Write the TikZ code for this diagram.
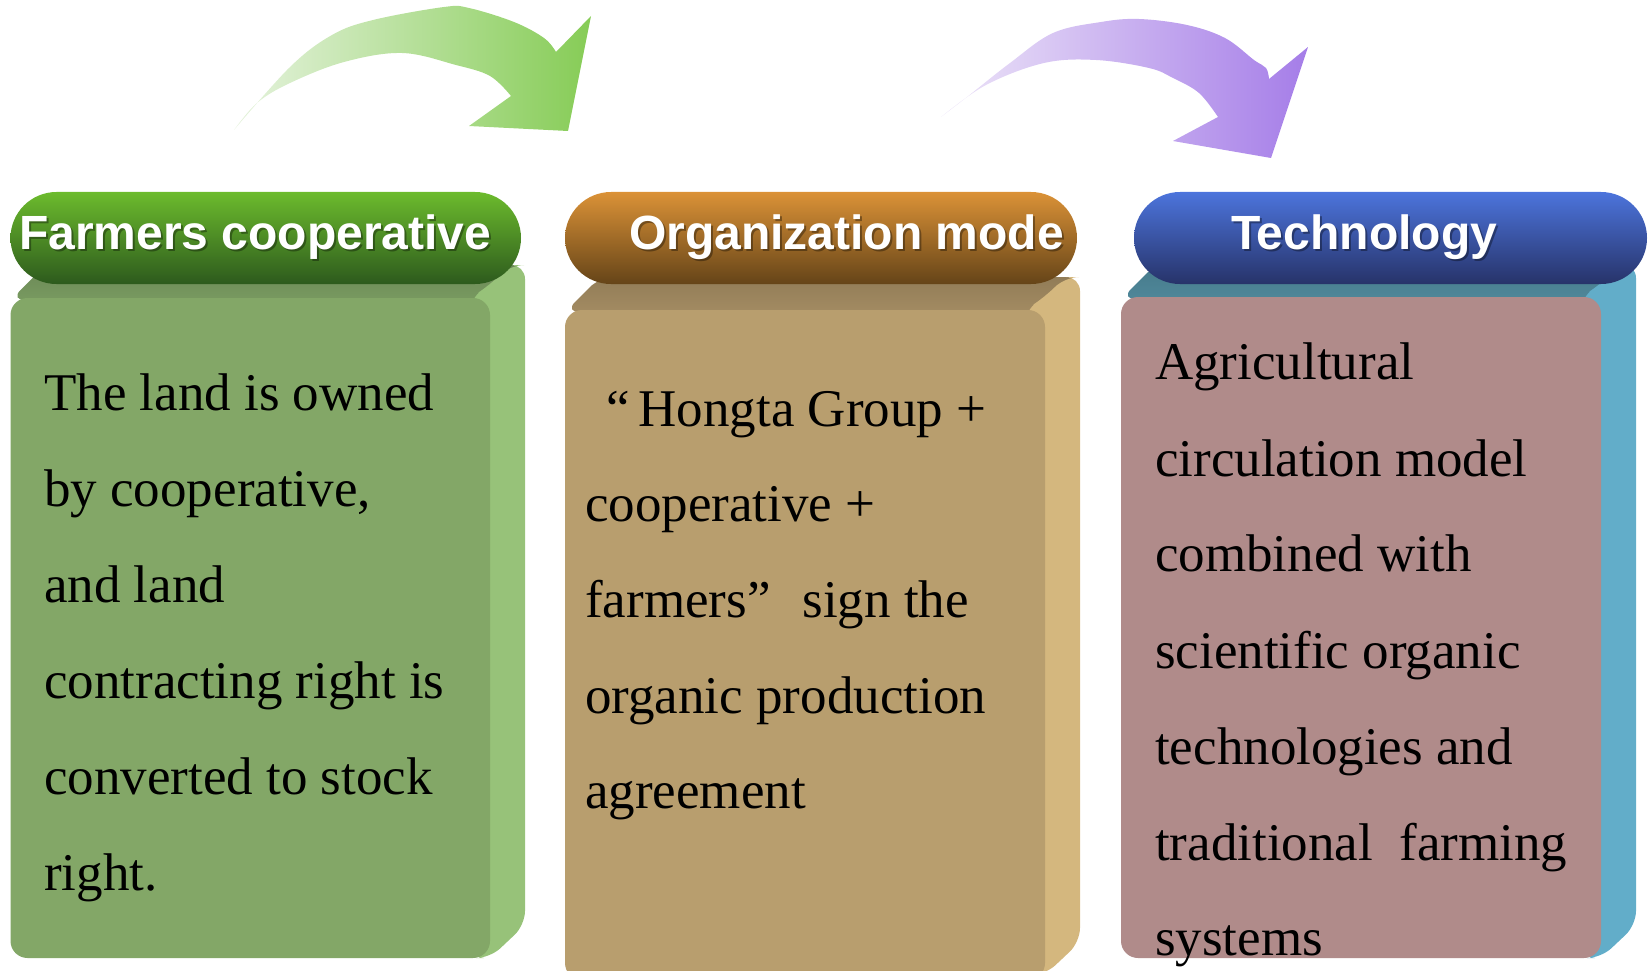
\documentclass[tikz,border=0pt]{standalone}
\usepackage{fontspec}
\setmainfont{Liberation Serif}
\setsansfont{Liberation Sans}
\definecolor{gfront}{HTML}{83A767}
\definecolor{gside}{HTML}{97C279}
\definecolor{gtop}{HTML}{6B8756}
\definecolor{gtopL}{HTML}{789A60}
\definecolor{ofront}{HTML}{B89E6E}
\definecolor{oside}{HTML}{D4B77E}
\definecolor{otop}{HTML}{917C57}
\definecolor{otopL}{HTML}{A38B62}
\definecolor{bfront}{HTML}{B08B8A}
\definecolor{bside}{HTML}{62ADC9}
\definecolor{btop}{HTML}{467A8B}
\definecolor{btopL}{HTML}{4F8799}
\definecolor{ghA}{HTML}{6CBB2D}
\definecolor{ghB}{HTML}{4F9326}
\definecolor{ghC}{HTML}{2D5A1D}
\definecolor{ohA}{HTML}{DB9237}
\definecolor{ohB}{HTML}{A8702A}
\definecolor{ohC}{HTML}{654418}
\definecolor{bhA}{HTML}{4C74DC}
\definecolor{bhB}{HTML}{3D58A8}
\definecolor{bhC}{HTML}{273369}
\definecolor{garL}{HTML}{E6F3DE}
\definecolor{garR}{HTML}{86CC56}
\definecolor{parL}{HTML}{EEE6F8}
\definecolor{parR}{HTML}{A57DE8}
\tikzset{
  bodytext/.style={anchor=base west, inner sep=0pt, font=\fontsize{53}{60}\selectfont},
  headtext/.style={anchor=base west, inner sep=0pt, text=white, font=\sffamily\bfseries\fontsize{48}{54}\selectfont},
  headshadow/.style={headtext, text=black, opacity=0.35},
  pill/.style={rounded corners=46pt},
  frontface/.style={rounded corners=17pt},
  sideface/.style={rounded corners=14pt},
}
\begin{document}
\begin{tikzpicture}[x=1pt,y=-1pt]
\useasboundingbox (0,0) rectangle (1650,971);
% ---- arrows
\shade[left color=garL, right color=garR]
  plot[smooth, tension=0.6] coordinates {(234,130) (290,67) (332,35) (373,20) (444,7) (469,8) (514,22) (544,38) (556,52)}
  -- (591,16) -- (568,131) -- (469,126)
  -- plot[smooth, tension=0.6] coordinates {(511,96) (490,76) (456,65) (402,53) (344,62) (290,83) (257,103) (234,130)}
  -- cycle;
\shade[left color=parL, right color=parR]
  plot[smooth, tension=0.6] coordinates {(941,117) (967,97) (1010,63) (1053,33) (1101,22) (1139,19) (1187,25) (1225,38) (1254,60) (1266,68) (1269,79)}
  -- (1308,47) -- (1271,158) -- (1173,141)
  -- plot[smooth, tension=0.6] coordinates {(1218,117) (1199,93) (1173,78) (1149,68) (1096,60) (1044,63) (986,85) (941,117)}
  -- cycle;
% ---- box 1
\shade[sideface, top color=gtop, bottom color=gtopL] (10.5,300) -- (45.5,265) -- (525,265) -- (490,298) -- cycle;
\fill[gside, sideface] (470,298) -- (490,285) -- (510,265) -- (525,265) -- (525,925) -- (490,958) -- (470,958) -- cycle;
\fill[gfront, frontface] (10.5,298) rectangle (490,958);
\shade[pill, top color=ghA, middle color=ghB, bottom color=ghC] (10.5,192) rectangle (521,284);
% ---- box 2
\shade[sideface, top color=otop, bottom color=otopL] (565,312) -- (600,277) -- (1080,277) -- (1045,310) -- cycle;
\fill[oside, sideface] (1025,310) -- (1045,297) -- (1065,277) -- (1080,277) -- (1080,942) -- (1045,975) -- (1025,975) -- cycle;
\fill[ofront, frontface] (565,310) rectangle (1045,980);
\shade[pill, top color=ohA, middle color=ohB, bottom color=ohC] (565,192) rectangle (1077,284);
% ---- box 3
\shade[sideface, top color=btop, bottom color=btopL] (1121,299) -- (1156,264) -- (1636,264) -- (1601,297) -- cycle;
\fill[bside, sideface] (1581,297) -- (1601,284) -- (1621,264) -- (1636,264) -- (1636,925) -- (1601,958) -- (1581,958) -- cycle;
\fill[bfront, frontface] (1121,297) rectangle (1601,958);
\shade[pill, top color=bhA, middle color=bhB, bottom color=bhC] (1134,192) rectangle (1647,284);
% ---- header texts
\node[headshadow] (h1s) at (21,251) {Farmers cooperative};
\node[headtext] (h1) at (19,249) {Farmers cooperative};
\node[headshadow] (h2s) at (631,251) {Organization mode};
\node[headtext] (h2) at (629,249) {Organization mode};
\node[headshadow] (h3s) at (1233,251) {Technology};
\node[headtext] (h3) at (1231,249) {Technology};
% ---- body texts
\node[bodytext] (a1) at (44,410) {The land is owned};
\node[bodytext] (a2) at (44,506) {by cooperative,};
\node[bodytext] (a3) at (44,602) {and land};
\node[bodytext] (a4) at (44,698) {contracting right is};
\node[bodytext] (a5) at (44,794) {converted to stock};
\node[bodytext] (a6) at (44,890) {right.};
\node[bodytext] (b1) at (606,426) {“\hspace{9pt}Hongta Group +};
\node[bodytext] (b2) at (585,521) {cooperative +};
\node[bodytext] (b3) at (585,617) {farmers”\hspace{32pt}sign the};
\node[bodytext] (b4) at (585,713) {organic production};
\node[bodytext] (b5) at (585,808) {agreement};
\node[bodytext] (c1) at (1155,379) {Agricultural};
\node[bodytext] (c2) at (1155,476) {circulation model};
\node[bodytext] (c3) at (1155,571) {combined with};
\node[bodytext] (c4) at (1155,668) {scientific organic};
\node[bodytext] (c5) at (1155,764) {technologies and};
\node[bodytext] (c6) at (1155,860) {traditional\ \ farming};
\node[bodytext] (c7) at (1155,955) {systems};
\end{tikzpicture}
\end{document}
